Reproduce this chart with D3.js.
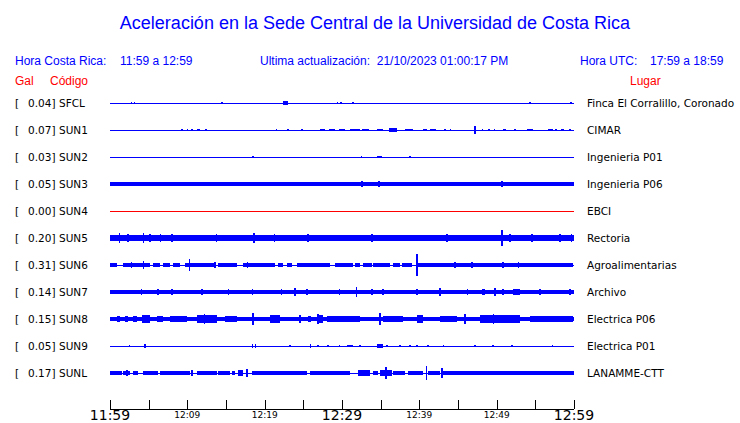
<!DOCTYPE html>
<html>
<head>
<meta charset="utf-8">
<script src="https://cdn.jsdelivr.net/npm/d3@7"></script>
<style>
  body { margin: 0; background: #fff; }
  svg { display: block; }
</style>
</head>
<body>
<div id="chart"></div>
<script>
// stations, top to bottom
var codes  = ["SFCL", "SUN1", "SUN2", "SUN3", "SUN4", "SUN5", "SUN6", "SUN7", "SUN8", "SUN9", "SUNL"];
var gals   = [0.04, 0.07, 0.03, 0.05, 0.00, 0.20, 0.31, 0.14, 0.15, 0.05, 0.17];
var places = ["Finca El Corralillo, Coronado", "CIMAR", "Ingenieria P01", "Ingenieria P06", "EBCI",
              "Rectoria", "Agroalimentarias", "Archivo", "Electrica P06", "Electrica P01", "LANAMME-CTT"];

// background amplitude of each trace (relative units, 0 = flat line)
var baseAmp = [0, 0, 0, 0.17, 0, 0.22, 0, 0.16, 0.2, 0, 0];

// stretches of stronger shaking: [minute from 11:59, minute, amplitude]
var bands = [
  [[22.4, 23.0, 0.17]],
  [[11.3, 11.6, 0.12], [27.2, 27.8, 0.12], [28.3, 29.1, 0.12], [29.6, 30.4, 0.12], [31.0, 32.3, 0.12],
   [32.6, 33.5, 0.12], [34.5, 35.3, 0.12], [36.1, 37.1, 0.14], [38.1, 39.2, 0.12], [40.5, 41.0, 0.12],
   [41.4, 42.2, 0.12], [50.8, 51.2, 0.12], [53.9, 54.7, 0.12], [56.6, 57.3, 0.12], [58.3, 58.7, 0.12]],
  [[34.5, 35.2, 0.1]],
  [],
  [],
  [[0, 12, 0.27], [18.0, 19.2, 0.29], [29.5, 31.0, 0.26], [47.5, 52.0, 0.27]],
  [[0, 0.9, 0.17], [1.7, 5.2, 0.17], [5.6, 6.5, 0.17], [6.9, 7.8, 0.17], [8.1, 9.1, 0.17], [9.7, 13.6, 0.17],
   [14.0, 16.4, 0.17], [17.2, 21.3, 0.17], [21.7, 22.4, 0.17], [22.9, 23.5, 0.17], [24.2, 28.4, 0.17],
   [29.1, 31.4, 0.17], [31.7, 32.3, 0.17], [32.7, 33.9, 0.17], [34.0, 36.2, 0.17], [36.6, 37.5, 0.17],
   [37.8, 39.1, 0.17], [39.8, 59.9, 0.17]],
  [[48.1, 48.5, 0.25], [52.1, 53.0, 0.22]],
  [[0.9, 1.3, 0.27], [1.9, 2.3, 0.27], [3.0, 3.5, 0.27], [4.1, 5.2, 0.3], [6.1, 6.9, 0.27], [7.8, 10.0, 0.27],
   [11.3, 13.8, 0.32], [14.9, 16.4, 0.27], [20.7, 22.0, 0.3], [25.6, 26.0, 0.27], [26.8, 27.5, 0.32],
   [28.1, 32.3, 0.26], [35.3, 37.9, 0.27], [39.7, 40.5, 0.3], [42.7, 44.9, 0.27], [47.8, 53.0, 0.3],
   [54.3, 59.9, 0.24]],
  [[30.6, 31.4, 0.1], [34.5, 35.3, 0.17]],
  [[0, 1.6, 0.17], [1.7, 2.6, 0.17], [3.0, 3.6, 0.17], [4.3, 6.2, 0.17], [6.5, 10.3, 0.17], [11.3, 13.8, 0.17],
   [14.0, 15.5, 0.17], [15.8, 16.2, 0.17], [16.6, 17.2, 0.22], [18.4, 25.5, 0.17], [25.9, 31.0, 0.17],
   [32.1, 33.6, 0.22], [34.0, 34.7, 0.17], [34.9, 36.5, 0.27], [36.6, 38.1, 0.17], [38.5, 40.5, 0.17],
   [41.1, 42.7, 0.17], [43.1, 60, 0.18]]
];

// single peaks: [minute from 11:59, amplitude]
var spikes = [
  [[2.8, 0.1], [3.2, 0.08], [14.5, 0.06], [29.4, 0.1], [29.9, 0.12], [31.4, 0.08], [54.3, 0.08], [59.6, 0.12]],
  [[9.3, 0.12], [10.0, 0.08], [10.6, 0.08], [12.4, 0.12], [21.5, 0.1], [23.0, 0.1], [24.8, 0.12],
   [43.3, 0.12], [44.0, 0.12], [47.2, 0.33], [48.2, 0.1], [49.0, 0.12], [49.7, 0.08], [52.4, 0.12],
   [57.7, 0.1], [59.5, 0.12]],
  [[18.4, 0.08], [18.5, 0.08], [32.5, 0.1], [38.8, 0.08]],
  [[32.6, 0.22], [34.8, 0.27], [50.7, 0.22]],
  [],
  [[1.2, 0.45], [2.3, 0.35], [4.3, 0.4], [5.2, 0.3], [6.5, 0.3], [8.0, 0.3], [13.8, 0.35], [15.5, 0.28],
   [18.6, 0.38], [21.3, 0.3], [23.3, 0.28], [25.6, 0.3], [29.7, 0.28], [33.9, 0.35], [36.2, 0.28],
   [37.5, 0.28], [40.1, 0.28], [43.6, 0.3], [45.3, 0.28], [50.7, 0.7], [51.7, 0.3], [54.6, 0.3],
   [55.2, 0.28], [58.2, 0.3], [59.7, 0.3]],
  [[2.8, 0.25], [4.3, 0.3], [10.3, 0.5], [13.6, 0.25], [17.8, 0.22], [39.7, 0.92], [44.6, 0.22],
   [46.8, 0.22], [50.8, 0.22], [52.8, 0.22]],
  [[4.1, 0.25], [6.2, 0.22], [8.0, 0.22], [11.9, 0.22], [15.3, 0.22], [18.4, 0.22], [22.2, 0.22], [23.9, 0.35],
   [25.5, 0.25], [29.7, 0.25], [31.9, 0.4], [33.9, 0.22], [35.3, 0.22], [39.7, 0.22], [42.7, 0.3],
   [46.2, 0.22], [49.8, 0.3], [50.8, 0.22], [55.6, 0.22], [59.5, 0.22]],
  [[18.5, 0.5], [34.9, 0.5], [26.9, 0.45], [12.2, 0.42], [49.6, 0.42], [45.9, 0.38], [24.6, 0.35]],
  [[2.5, 0.08], [4.5, 0.15], [18.4, 0.15], [18.8, 0.15], [23.3, 0.08], [25.9, 0.15], [26.9, 0.1],
   [28.2, 0.08], [29.7, 0.12], [32.3, 0.1], [35.8, 0.1], [37.5, 0.08], [38.8, 0.1], [39.7, 0.08],
   [41.1, 0.1], [43.1, 0.06], [47.2, 0.06], [49.5, 0.06], [52.0, 0.06], [57.2, 0.06]],
  [[2.2, 0.25], [10.6, 0.22], [17.7, 0.33], [35.7, 0.5], [40.9, 0.58], [42.9, 0.42]]
];

var startTime = new Date(2023, 9, 21, 11, 59);
var endTime   = new Date(2023, 9, 21, 12, 59);
var tickMinutes = [0, 5, 10, 15, 20, 25, 30, 35, 40, 45, 50, 55, 60];
var bigLabels   = ["11:59", "12:29", "12:59"];

var width = 740, height = 423;
var BLUE = "#0000ff", RED = "#ff0000";

function at(m) { return new Date(startTime.getTime() + m * 60000); }

var svg = d3.select("#chart")
  .append("svg")
    .attr("width", width)
    .attr("height", height);

var x = d3.scaleTime().domain([startTime, endTime]).range([110, 574]);
var y = d3.scalePoint().domain(codes).range([103, 373]);
var amp = d3.scaleLinear().domain([0, 1]).range([0, 12]);

// header
svg.append("text")
    .attr("x", 375)
    .attr("y", 29)
    .style("font-family", "Liberation Sans, Arial, sans-serif")
    .style("font-size", "18px")
    .style("text-anchor", "middle")
    .style("fill", BLUE)
    .text("Aceleración en la Sede Central de la Universidad de Costa Rica");

var hdr = [
  {t: "Hora Costa Rica:", x: 15, c: BLUE, y: 65},
  {t: "11:59 a 12:59", x: 120, c: BLUE, y: 65},
  {t: "Ultima actualización:  21/10/2023 01:00:17 PM", x: 260, c: BLUE, y: 65},
  {t: "Hora UTC:", x: 580, c: BLUE, y: 65},
  {t: "17:59 a 18:59", x: 650, c: BLUE, y: 65},
  {t: "Gal", x: 15, c: RED, y: 85},
  {t: "Código", x: 50, c: RED, y: 85},
  {t: "Lugar", x: 630, c: RED, y: 85}
];
svg.selectAll("text.hdr")
    .data(hdr).enter()
  .append("text")
    .attr("class", "hdr")
    .attr("x", d => d.x)
    .attr("y", d => d.y)
    .style("font-family", "Liberation Sans, Arial, sans-serif")
    .style("font-size", "12px")
    .style("white-space", "pre")
    .style("fill", d => d.c)
    .text(d => d.t);

// rows
var rows = svg.selectAll("g.row")
    .data(codes).enter()
  .append("g")
    .attr("class", "row")
    .attr("transform", d => "translate(0," + y(d) + ")");

var lblFont = "DejaVu Sans, sans-serif";
rows.append("text")
    .attr("x", 15).attr("y", 4)
    .style("font-family", lblFont).style("font-size", "10.5px")
    .text("[");
rows.append("text")
    .attr("x", 55.5).attr("y", 4)
    .style("font-family", lblFont).style("font-size", "10.5px")
    .style("text-anchor", "end")
    .text((d, i) => gals[i].toFixed(2) + "]");
rows.append("text")
    .attr("x", 59).attr("y", 4)
    .style("font-family", lblFont).style("font-size", "10.5px")
    .text(d => d);
rows.append("text")
    .attr("x", 587).attr("y", 4)
    .style("font-family", lblFont).style("font-size", "10.5px")
    .text((d, i) => places[i]);

// traces
rows.each(function(code, i) {
  var g = d3.select(this).append("g").style("shape-rendering", "crispEdges");
  var col = gals[i] === 0 ? RED : BLUE;
  var h0 = Math.max(1, 2 * amp(baseAmp[i]));

  g.append("rect")
      .attr("x", x(startTime))
      .attr("y", -h0 / 2)
      .attr("width", x(endTime) - x(startTime))
      .attr("height", h0)
      .style("fill", col);

  g.selectAll("rect.band")
      .data(bands[i]).enter()
    .append("rect")
      .attr("class", "band")
      .attr("x", d => x(at(d[0])))
      .attr("y", d => -amp(d[2]))
      .attr("width", d => Math.max(1.5, x(at(d[1])) - x(at(d[0]))))
      .attr("height", d => 2 * amp(d[2]))
      .style("fill", col);

  g.selectAll("rect.spike")
      .data(spikes[i]).enter()
    .append("rect")
      .attr("class", "spike")
      .attr("x", d => x(at(d[0])) - 0.75)
      .attr("y", d => -amp(d[1]))
      .attr("width", 1.5)
      .attr("height", d => 2 * amp(d[1]))
      .style("fill", col);
});

// time axis
var axisY = 409;
var axis = svg.append("g").attr("class", "xaxis");
axis.append("line")
    .attr("x1", x(startTime)).attr("x2", x(endTime))
    .attr("y1", axisY + 0.5).attr("y2", axisY + 0.5)
    .style("stroke", "black");
axis.selectAll("line.tick")
    .data(tickMinutes).enter()
  .append("line")
    .attr("class", "tick")
    .attr("x1", d => Math.round(x(at(d))) + 0.5)
    .attr("x2", d => Math.round(x(at(d))) + 0.5)
    .attr("y1", axisY - 9).attr("y2", axisY)
    .style("stroke", "black");

var fmt = d3.timeFormat("%H:%M");
axis.selectAll("text")
    .data(tickMinutes.filter(m => m % 10 === 0)).enter()
  .append("text")
    .attr("x", d => x(at(d)))
    .attr("y", d => bigLabels.indexOf(fmt(at(d))) >= 0 ? 420 : 418)
    .style("font-family", lblFont)
    .style("font-size", d => bigLabels.indexOf(fmt(at(d))) >= 0 ? "14px" : "9px")
    .style("text-anchor", "middle")
    .text(d => fmt(at(d)));
</script>
</body>
</html>
